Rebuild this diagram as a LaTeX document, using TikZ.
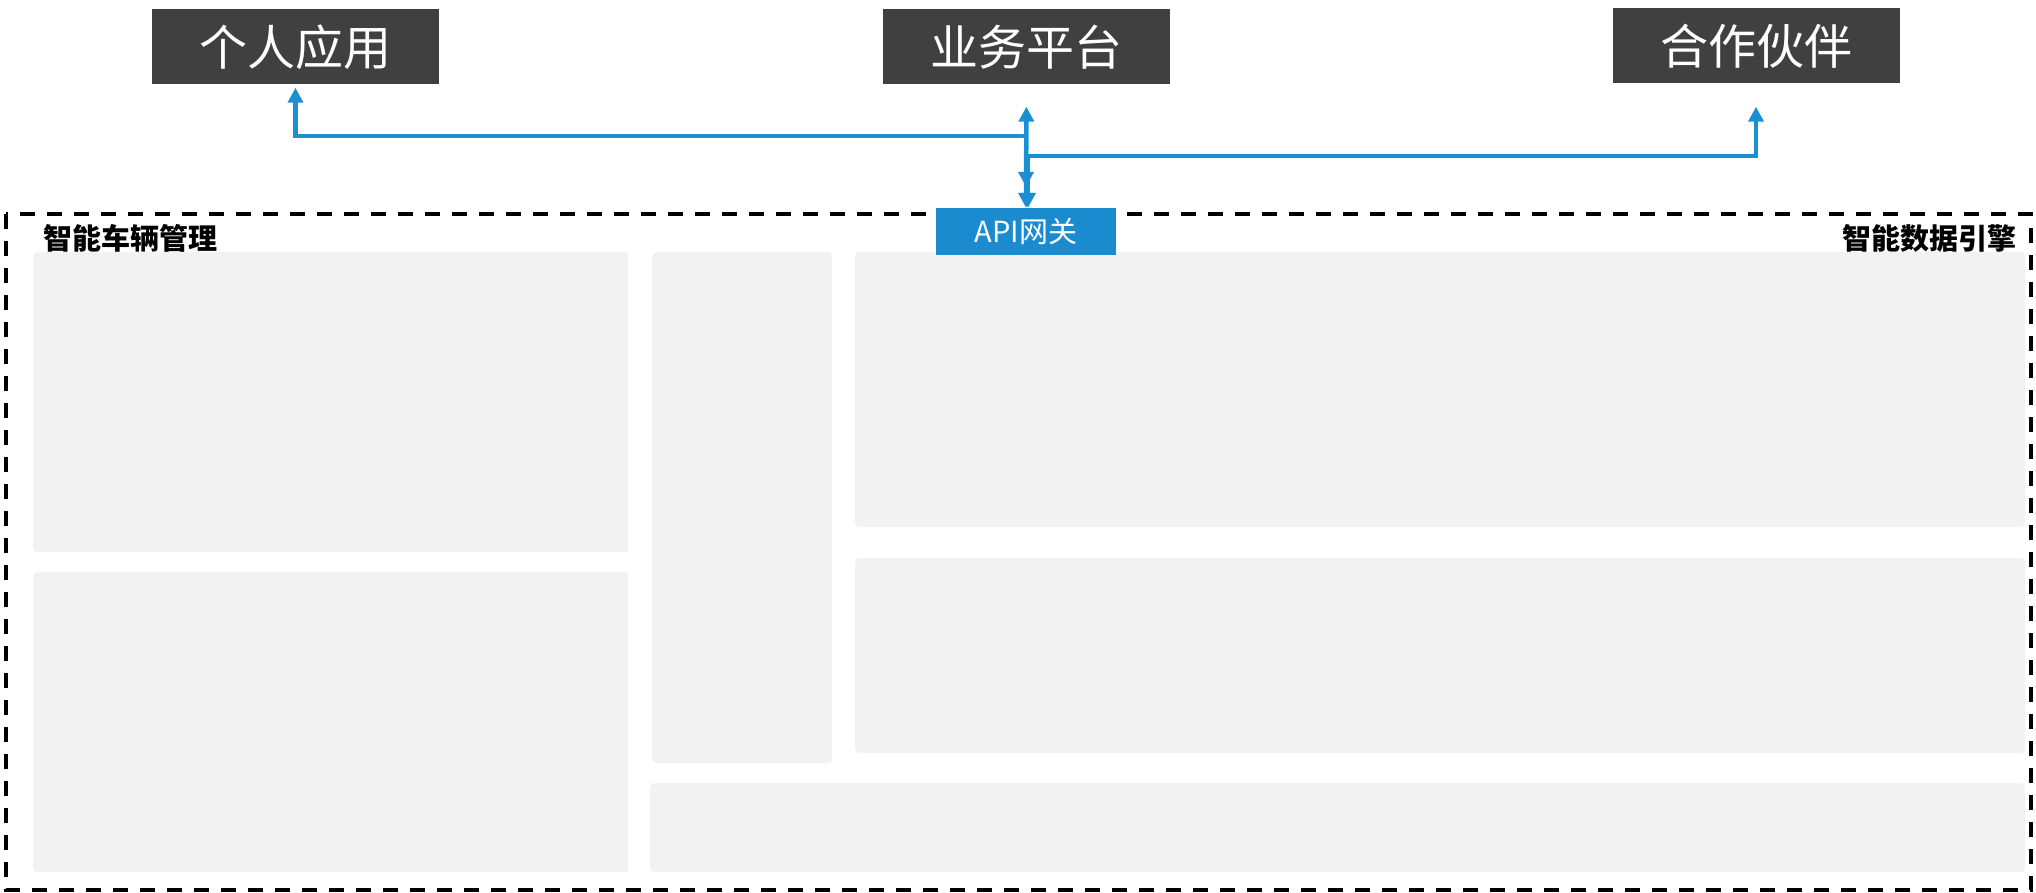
\documentclass[tikz,border=0pt]{standalone}
\usepackage{fontspec}
\setmainfont{Noto Sans CJK SC}
\usetikzlibrary{arrows.meta}
\definecolor{darkbox}{HTML}{404040}
\definecolor{linkblue}{HTML}{1B8FD3}
\definecolor{gwblue}{HTML}{1A8BCF}
\definecolor{panelgray}{HTML}{F2F2F2}
\tikzset{
  topbox/.style={fill=darkbox, text=white, inner sep=0pt, minimum width=287pt, minimum height=75pt, font=\fontsize{48}{48}\selectfont},
  gwbox/.style={fill=gwblue, text=white, inner sep=0pt, minimum width=180pt, minimum height=47pt, font=\fontsize{29}{29}\selectfont},
  panel/.style={fill=panelgray, rounded corners=4pt, inner sep=0pt, anchor=north west},
  conn/.style={draw=linkblue, line width=4.5pt, arrows={Triangle[length=15pt,width=15pt]-Triangle[length=15pt,width=15pt]}},
  grouptitle/.style={font=\fontsize{29}{29}\selectfont\bfseries, text=black, inner sep=0pt},
  frame/.style={draw=black, line width=4pt, dash pattern=on 15pt off 12pt}
}
\begin{document}
\begin{tikzpicture}[x=1pt,y=1pt]
\useasboundingbox (0,0) rectangle (2036,-893);
% outer dashed container
\draw[frame] (6,-214) rectangle (2031,-890);
% panels
\node[panel, minimum width=595pt, minimum height=300pt] (p1) at (33,-252) {};
\node[panel, minimum width=595pt, minimum height=300pt] (p2) at (33,-572) {};
\node[panel, minimum width=180pt, minimum height=511pt] (p3) at (652,-252) {};
\node[panel, minimum width=1170pt, minimum height=275pt] (p4) at (855,-252) {};
\node[panel, minimum width=1170pt, minimum height=195pt] (p5) at (855,-558) {};
\node[panel, minimum width=1375pt, minimum height=89pt] (p6) at (650,-783) {};
% group titles
\node[grouptitle, anchor=west] (t1) at (43,-238) {智能车辆管理};
\node[grouptitle, anchor=east] (t2) at (2017,-238) {智能数据引擎};
% top boxes
\node[topbox] (pa) at (295.5,-47) {个人应用};
\node[topbox] (bp) at (1026.5,-47) {业务平台};
\node[topbox] (hz) at (1756,-46) {合作伙伴};
% gateway
\node[gwbox] (gw) at (1026,-231.5) {API网关};
% connector levels
\coordinate (h1) at (0,-136);
\coordinate (h2) at (0,-156);
% connectors
\draw[conn, shorten <=21pt, shorten >=3pt] (gw.north) |- (pa.south |- h1) -- (pa.south);
\draw[conn, shorten >=22pt] (gw.north) -- (bp.south);
\draw[conn, shorten >=23pt] ([xshift=2pt]gw.north) |- (hz.south |- h2) -- (hz.south);
\end{tikzpicture}
\end{document}
